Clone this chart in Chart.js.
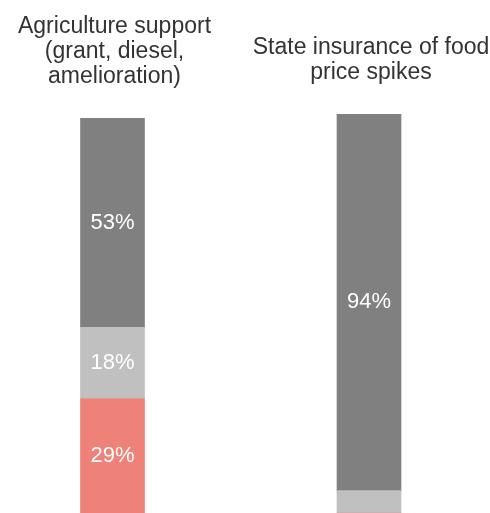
<!DOCTYPE html>
<html>
<head>
<meta charset="utf-8">
<script src="https://cdn.jsdelivr.net/npm/chart.js@4"></script>
<style>
  body { margin: 0; background: #fff; }
  #wrap { position: relative; width: 490px; height: 513px; }
  canvas { position: absolute; top: 0; }
</style>
</head>
<body>
<div id="wrap">
  <canvas id="leftChart" width="225" height="513" style="left:0px"></canvas>
  <canvas id="rightChart" width="242" height="513" style="left:248px"></canvas>
</div>
<script>
// answer groups, top to bottom in each bar
var seriesNames = ["Support", "Undecided", "Oppose"];
var seriesColors = ["#808080", "#c0c0c0", "#ee8278"];

var leftTitle = [["Agriculture support", "(grant, diesel,", "amelioration)"]];
var rightTitle = [["State insurance of food", "price spikes"]];

// percent per group
var agricultureValues = [53, 18, 29];
var insuranceValues = [94.4, 5.6, 0];

// white percent text inside each segment
var pctLabels = {
  id: "pctLabels",
  afterDatasetsDraw: function(chart){
    var ctx = chart.ctx;
    ctx.save();
    ctx.fillStyle = "#ffffff";
    ctx.font = "22px 'Liberation Sans', Arial, sans-serif";
    ctx.textAlign = "center";
    ctx.textBaseline = "middle";
    chart.data.datasets.forEach(function(ds, i){
      var meta = chart.getDatasetMeta(i);
      meta.data.forEach(function(bar, j){
        var v = ds.data[j];
        if (v < 10) return;
        var p = bar.getProps(["x", "y", "base"], true);
        ctx.fillText(Math.round(v) + "%", p.x, (p.y + p.base) / 2);
      });
    });
    ctx.restore();
  }
};

function makePanel(id, title, values, padTop){
  // stack order: bottom segment first
  var sets = [];
  for (var i = seriesNames.length - 1; i >= 0; i--) {
    sets.push({
      label: seriesNames[i],
      data: [values[i]],
      backgroundColor: seriesColors[i],
      barThickness: 64
    });
  }
  var total = 0;
  for (var k = 0; k < values.length; k++) total += values[k];

  return new Chart(document.getElementById(id).getContext("2d"), {
    type: "bar",
    data: { labels: title, datasets: sets },
    options: {
      responsive: false,
      animation: false,
      layout: { padding: { top: padTop } },
      plugins: { legend: { display: false }, tooltip: { enabled: false } },
      scales: {
        x: {
          position: "top",
          stacked: true,
          // invisible tick marks just make the gap under the title
          grid: { display: true, drawOnChartArea: false, drawTicks: true, tickLength: 27, tickColor: "rgba(0,0,0,0)" },
          border: { display: false },
          ticks: {
            color: "#333333",
            padding: 2,
            labelOffset: 2,
            maxRotation: 0,
            autoSkip: false,
            font: { size: 23, family: "'Liberation Sans', Arial, sans-serif", lineHeight: 1.08 }
          }
        },
        y: { display: false, stacked: true, min: 0, max: total }
      }
    },
    plugins: [pctLabels]
  });
}

makePanel("leftChart", leftTitle, agricultureValues, 12.6);
makePanel("rightChart", rightTitle, insuranceValues, 33.4);
</script>
</body>
</html>
